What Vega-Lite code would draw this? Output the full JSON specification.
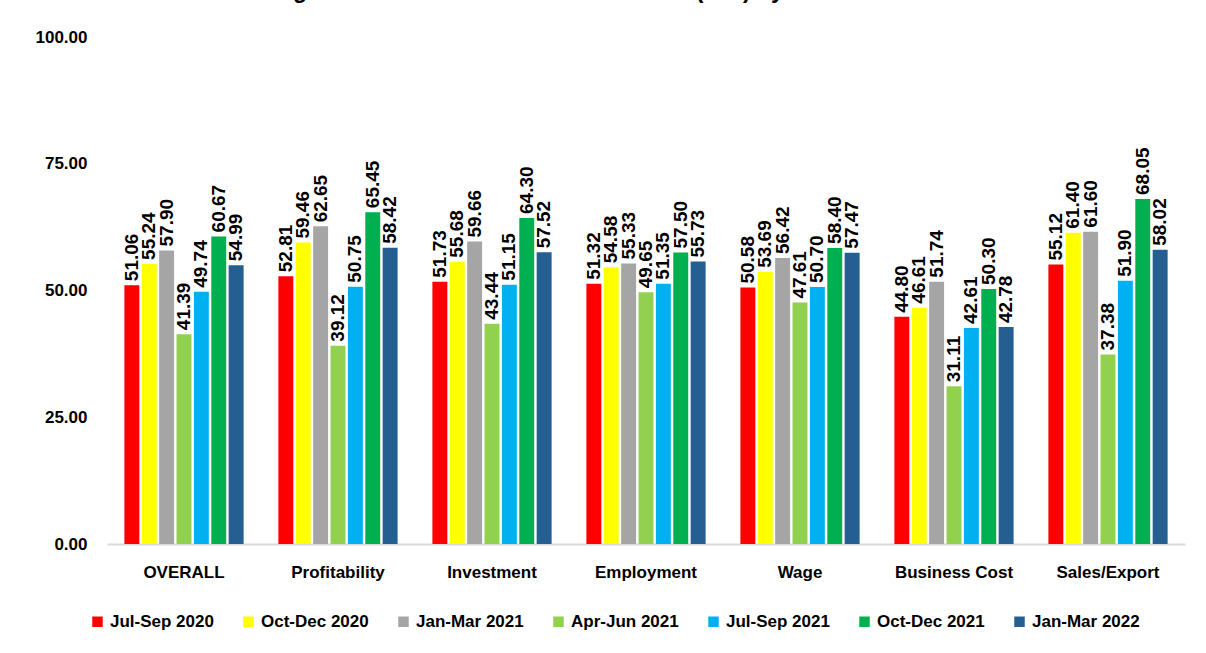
{
  "$schema": "https://vega.github.io/schema/vega-lite/v6.json",
  "width": 1078,
  "height": 507,
  "autosize": {"type": "none"},
  "padding": {"left": 107, "top": 37, "right": 21, "bottom": 109},
  "background": "white",
  "title": {
    "text": "Figure 10: Business Confidence Index (BCI) by Indicator",
    "font": "Liberation Sans",
    "fontSize": 23,
    "fontWeight": "bold",
    "color": "black",
    "baseline": "alphabetic",
    "offset": 0,
    "dy": -7,
    "dx": -66
  },
  "data": {
    "values": [
      {"indicator": "OVERALL", "period": "Jul-Sep 2020", "value": 51.06},
      {"indicator": "OVERALL", "period": "Oct-Dec 2020", "value": 55.24},
      {"indicator": "OVERALL", "period": "Jan-Mar 2021", "value": 57.90},
      {"indicator": "OVERALL", "period": "Apr-Jun 2021", "value": 41.39},
      {"indicator": "OVERALL", "period": "Jul-Sep 2021", "value": 49.74},
      {"indicator": "OVERALL", "period": "Oct-Dec 2021", "value": 60.67},
      {"indicator": "OVERALL", "period": "Jan-Mar 2022", "value": 54.99},
      {"indicator": "Profitability", "period": "Jul-Sep 2020", "value": 52.81},
      {"indicator": "Profitability", "period": "Oct-Dec 2020", "value": 59.46},
      {"indicator": "Profitability", "period": "Jan-Mar 2021", "value": 62.65},
      {"indicator": "Profitability", "period": "Apr-Jun 2021", "value": 39.12},
      {"indicator": "Profitability", "period": "Jul-Sep 2021", "value": 50.75},
      {"indicator": "Profitability", "period": "Oct-Dec 2021", "value": 65.45},
      {"indicator": "Profitability", "period": "Jan-Mar 2022", "value": 58.42},
      {"indicator": "Investment", "period": "Jul-Sep 2020", "value": 51.73},
      {"indicator": "Investment", "period": "Oct-Dec 2020", "value": 55.68},
      {"indicator": "Investment", "period": "Jan-Mar 2021", "value": 59.66},
      {"indicator": "Investment", "period": "Apr-Jun 2021", "value": 43.44},
      {"indicator": "Investment", "period": "Jul-Sep 2021", "value": 51.15},
      {"indicator": "Investment", "period": "Oct-Dec 2021", "value": 64.30},
      {"indicator": "Investment", "period": "Jan-Mar 2022", "value": 57.52},
      {"indicator": "Employment", "period": "Jul-Sep 2020", "value": 51.32},
      {"indicator": "Employment", "period": "Oct-Dec 2020", "value": 54.58},
      {"indicator": "Employment", "period": "Jan-Mar 2021", "value": 55.33},
      {"indicator": "Employment", "period": "Apr-Jun 2021", "value": 49.65},
      {"indicator": "Employment", "period": "Jul-Sep 2021", "value": 51.35},
      {"indicator": "Employment", "period": "Oct-Dec 2021", "value": 57.50},
      {"indicator": "Employment", "period": "Jan-Mar 2022", "value": 55.73},
      {"indicator": "Wage", "period": "Jul-Sep 2020", "value": 50.58},
      {"indicator": "Wage", "period": "Oct-Dec 2020", "value": 53.69},
      {"indicator": "Wage", "period": "Jan-Mar 2021", "value": 56.42},
      {"indicator": "Wage", "period": "Apr-Jun 2021", "value": 47.61},
      {"indicator": "Wage", "period": "Jul-Sep 2021", "value": 50.70},
      {"indicator": "Wage", "period": "Oct-Dec 2021", "value": 58.40},
      {"indicator": "Wage", "period": "Jan-Mar 2022", "value": 57.47},
      {"indicator": "Business Cost", "period": "Jul-Sep 2020", "value": 44.80},
      {"indicator": "Business Cost", "period": "Oct-Dec 2020", "value": 46.61},
      {"indicator": "Business Cost", "period": "Jan-Mar 2021", "value": 51.74},
      {"indicator": "Business Cost", "period": "Apr-Jun 2021", "value": 31.11},
      {"indicator": "Business Cost", "period": "Jul-Sep 2021", "value": 42.61},
      {"indicator": "Business Cost", "period": "Oct-Dec 2021", "value": 50.30},
      {"indicator": "Business Cost", "period": "Jan-Mar 2022", "value": 42.78},
      {"indicator": "Sales/Export", "period": "Jul-Sep 2020", "value": 55.12},
      {"indicator": "Sales/Export", "period": "Oct-Dec 2020", "value": 61.40},
      {"indicator": "Sales/Export", "period": "Jan-Mar 2021", "value": 61.60},
      {"indicator": "Sales/Export", "period": "Apr-Jun 2021", "value": 37.38},
      {"indicator": "Sales/Export", "period": "Jul-Sep 2021", "value": 51.90},
      {"indicator": "Sales/Export", "period": "Oct-Dec 2021", "value": 68.05},
      {"indicator": "Sales/Export", "period": "Jan-Mar 2022", "value": 58.02}
    ]
  },
  "encoding": {
    "x": {
      "field": "indicator",
      "type": "nominal",
      "sort": ["OVERALL", "Profitability", "Investment", "Employment", "Wage", "Business Cost", "Sales/Export"],
      "scale": {"paddingInner": 0.21, "paddingOuter": 0.105},
      "axis": {
        "title": null,
        "labelAngle": 0,
        "labelFont": "Liberation Sans",
        "labelFontSize": 17,
        "labelFontWeight": "bold",
        "labelColor": "black",
        "labelPadding": 20,
        "ticks": false,
        "domainColor": "#d9d9d9",
        "domainWidth": 2
      }
    },
    "xOffset": {
      "field": "period",
      "type": "nominal",
      "sort": ["Jul-Sep 2020", "Oct-Dec 2020", "Jan-Mar 2021", "Apr-Jun 2021", "Jul-Sep 2021", "Oct-Dec 2021", "Jan-Mar 2022"],
      "scale": {"paddingInner": 0.14, "paddingOuter": 0.07}
    },
    "y": {
      "field": "value",
      "type": "quantitative",
      "scale": {"domain": [0, 100]},
      "axis": {
        "title": null,
        "values": [0, 25, 50, 75, 100],
        "format": ".2f",
        "grid": false,
        "domain": false,
        "ticks": false,
        "labelFont": "Liberation Sans",
        "labelFontSize": 17,
        "labelFontWeight": "bold",
        "labelColor": "black",
        "labelPadding": 20
      }
    }
  },
  "layer": [
    {
      "mark": {"type": "bar"},
      "encoding": {
        "color": {
          "field": "period",
          "type": "nominal",
          "sort": ["Jul-Sep 2020", "Oct-Dec 2020", "Jan-Mar 2021", "Apr-Jun 2021", "Jul-Sep 2021", "Oct-Dec 2021", "Jan-Mar 2022"],
          "scale": {
            "domain": ["Jul-Sep 2020", "Oct-Dec 2020", "Jan-Mar 2021", "Apr-Jun 2021", "Jul-Sep 2021", "Oct-Dec 2021", "Jan-Mar 2022"],
            "range": ["#FF0000", "#FFFF00", "#A5A5A5", "#92D050", "#00B0F0", "#00B050", "#255E91"]
          },
          "legend": {
            "title": null,
            "orient": "none",
            "direction": "horizontal",
            "legendX": -18,
            "legendY": 576,
            "symbolType": "square",
            "symbolSize": 110,
            "symbolStrokeWidth": 0,
            "symbolOpacity": 1,
            "labelFont": "Liberation Sans",
            "labelFontSize": 17,
            "labelFontWeight": "bold",
            "labelColor": "black",
            "labelOffset": 4,
            "columnPadding": 26,
            "labelLimit": 300
          }
        }
      }
    },
    {
      "mark": {
        "type": "text",
        "angle": -90,
        "align": "left",
        "baseline": "middle",
        "dx": 4,
        "font": "Liberation Sans",
        "fontSize": 19,
        "fontWeight": "bold",
        "color": "black"
      },
      "encoding": {
        "text": {"field": "value", "type": "quantitative", "format": ".2f"}
      }
    }
  ],
  "config": {
    "view": {"stroke": null}
  }
}
